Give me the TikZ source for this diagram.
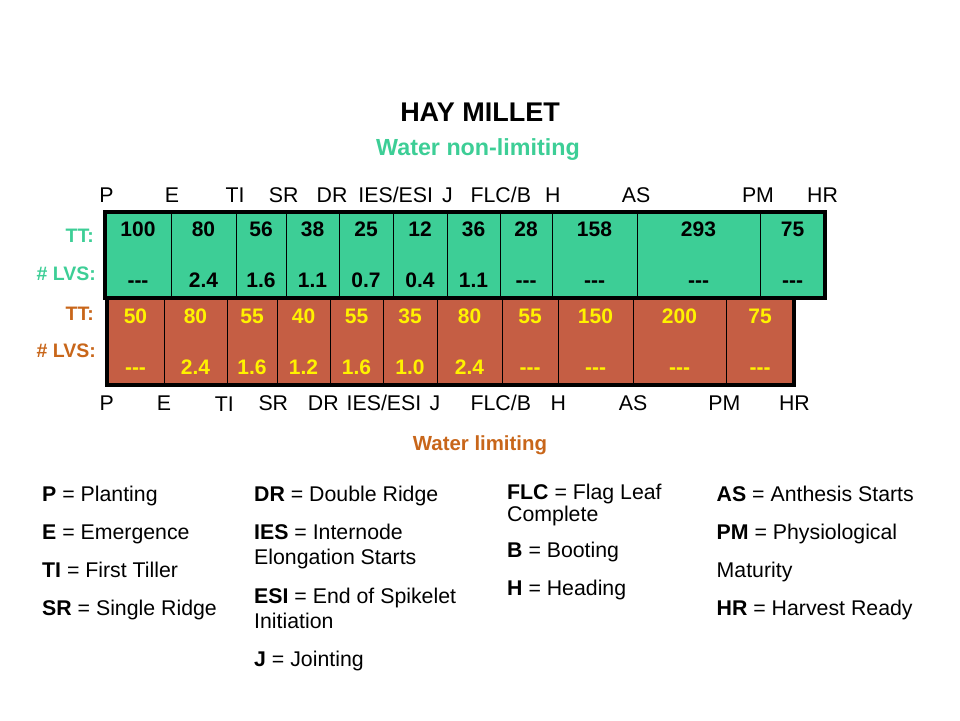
\documentclass[tikz,border=0pt]{standalone}
\usepackage{fontspec}
\setmainfont{Liberation Sans}[Ligatures=TeXOff]
\usepackage{xcolor}
\usetikzlibrary{positioning}
\definecolor{wetgreen}{HTML}{3DCE96}
\definecolor{drybrick}{HTML}{C55E44}
\definecolor{dryorange}{HTML}{C8661A}

\begin{document}
\begin{tikzpicture}[x=1pt, y=-1pt,
  gcell/.style={draw, line width=1pt, fill=wetgreen, minimum height=86pt, inner sep=0pt, outer sep=0pt, align=center, font=\fontsize{21}{51}\selectfont\bfseries},
  rcell/.style={gcell, fill=drybrick, text=yellow, minimum height=87pt},
  stage/.style={inner sep=0pt, anchor=base, font=\fontsize{21.3}{25}\selectfont},
  rowlab/.style={inner sep=0pt, anchor=base east, font=\fontsize{19.5}{23}\selectfont\bfseries},
  legend/.style={inner sep=0pt, anchor=base west, font=\fontsize{21.3}{25}\selectfont}]
\useasboundingbox (0,0) rectangle (960,720);

% titles
\node[anchor=base, font=\fontsize{27}{30}\selectfont\bfseries] (title) at (480,121) {HAY MILLET};
\node[anchor=base, text=wetgreen, font=\fontsize{23.3}{26}\selectfont\bfseries] (wet) at (478,155.7) {Water non-limiting};
\node[anchor=base, text=dryorange, font=\fontsize{20.4}{24}\selectfont\bfseries] (dry) at (480,450.7) {Water limiting};

% row labels
\node[rowlab, text=wetgreen] (wetTT) at (94,242.3) {TT:};
\node[rowlab, text=wetgreen] (wetLVS) at (96,280) {\# LVS:};
\node[rowlab, text=dryorange] (dryTT) at (94,320) {TT:};
\node[rowlab, text=dryorange] (dryLVS) at (96,357.3) {\# LVS:};

% water non-limiting
\node[gcell, minimum width=66pt, anchor=west] (g1) at (105,255) {100\\---};
\node[gcell, minimum width=65pt, right=0pt of g1] (g2) {80\\2.4};
\node[gcell, minimum width=50pt, right=0pt of g2] (g3) {56\\1.6};
\node[gcell, minimum width=53pt, right=0pt of g3] (g4) {38\\1.1};
\node[gcell, minimum width=54pt, right=0pt of g4] (g5) {25\\0.7};
\node[gcell, minimum width=54pt, right=0pt of g5] (g6) {12\\0.4};
\node[gcell, minimum width=53pt, right=0pt of g6] (g7) {36\\1.1};
\node[gcell, minimum width=52pt, right=0pt of g7] (g8) {28\\---};
\node[gcell, minimum width=85pt, right=0pt of g8] (g9) {158\\---};
\node[gcell, minimum width=123pt, right=0pt of g9] (g10) {293\\---};
\node[gcell, minimum width=65pt, right=0pt of g10] (g11) {75\\---};

% water limiting
\node[rcell, minimum width=57pt, anchor=west] (r1) at (107,341.5) {50\\---};
\node[rcell, minimum width=63pt, right=0pt of r1] (r2) {80\\2.4};
\node[rcell, minimum width=50pt, right=0pt of r2] (r3) {55\\1.6};
\node[rcell, minimum width=53pt, right=0pt of r3] (r4) {40\\1.2};
\node[rcell, minimum width=53pt, right=0pt of r4] (r5) {55\\1.6};
\node[rcell, minimum width=54pt, right=0pt of r5] (r6) {35\\1.0};
\node[rcell, minimum width=65pt, right=0pt of r6] (r7) {80\\2.4};
\node[rcell, minimum width=56pt, right=0pt of r7] (r8) {55\\---};
\node[rcell, minimum width=75pt, right=0pt of r8] (r9) {150\\---};
\node[rcell, minimum width=93pt, right=0pt of r9] (r10) {200\\---};
\node[rcell, minimum width=68pt, right=0pt of r10] (r11) {75\\---};

\draw[line width=3.2pt] (r1.north west) rectangle (r11.south east);
\draw[line width=3.2pt] (g1.north west) rectangle (g11.south east);

% stages above
\node[stage] (wP) at (106.5,202.5) {P};
\node[stage] (wE) at (172,202.5) {E};
\node[stage] (wTI) at (235,202.5) {TI};
\node[stage] (wSR) at (283.7,202.5) {SR};
\node[stage] (wDR) at (332,202.5) {DR};
\node[stage] (wIES) at (395.7,202.5) {IES/ESI};
\node[stage] (wJ) at (447.4,202.5) {J};
\node[stage] (wFLC) at (500.8,202.5) {FLC/B};
\node[stage] (wH) at (552.8,202.5) {H};
\node[stage] (wAS) at (636,202.5) {AS};
\node[stage] (wPM) at (758,202.5) {PM};
\node[stage] (wHR) at (822.5,202.5) {HR};

% stages below
\node[stage] (dP) at (106.7,410) {P};
\node[stage] (dE) at (164,410) {E};
\node[stage] (dTI) at (224.4,411.7) {TI};
\node[stage] (dSR) at (273.3,410) {SR};
\node[stage] (dDR) at (323.3,410) {DR};
\node[stage] (dIES) at (384,410) {IES/ESI};
\node[stage] (dJ) at (435,410) {J};
\node[stage] (dFLC) at (500.8,410) {FLC/B};
\node[stage] (dH) at (558.3,410) {H};
\node[stage] (dAS) at (633,410) {AS};
\node[stage] (dPM) at (724.4,410) {PM};
\node[stage] (dHR) at (794.4,410) {HR};

% key
\node[legend] (kP) at (42,501) {\textbf{P} = Planting};
\node[legend] (kE) at (42,539) {\textbf{E} = Emergence};
\node[legend] (kTI) at (42,577) {\textbf{TI} = First Tiller};
\node[legend] (kSR) at (42,615.5) {\textbf{SR} = Single Ridge};
\node[legend] (kDR) at (254,501) {\textbf{DR} = Double Ridge};
\node[legend] (kIES) at (254,539) {\textbf{IES} = Internode};
\node[legend] (kIES2) at (254,564) {Elongation Starts};
\node[legend] (kESI) at (254,603) {\textbf{ESI} = End of Spikelet};
\node[legend] (kESI2) at (254,628) {Initiation};
\node[legend] (kJ) at (254,666.5) {\textbf{J} = Jointing};
\node[legend] (kFLC) at (507,499) {\textbf{FLC} = Flag Leaf};
\node[legend] (kFLC2) at (507,521.5) {Complete};
\node[legend] (kB) at (507,557) {\textbf{B} = Booting};
\node[legend] (kH) at (507,595.5) {\textbf{H} = Heading};
\node[legend] (kAS) at (716.5,501) {\textbf{AS} = Anthesis Starts};
\node[legend] (kPM) at (716.5,539) {\textbf{PM} = Physiological};
\node[legend] (kPM2) at (716.5,577) {Maturity};
\node[legend] (kHR) at (716.5,615.5) {\textbf{HR} = Harvest Ready};
\end{tikzpicture}
\end{document}
